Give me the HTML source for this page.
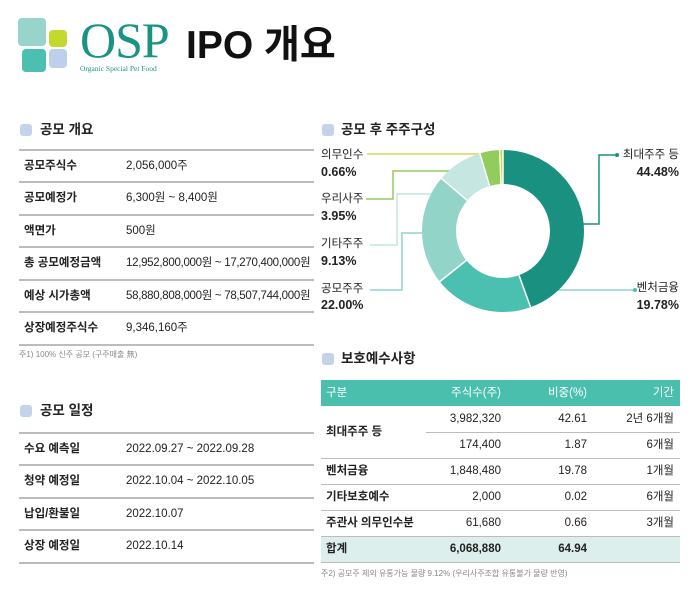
<!DOCTYPE html>
<html><head><meta charset="utf-8"><style>
body{margin:0;width:699px;height:596px;background:#fff;position:relative;overflow:hidden;font-family:"Liberation Sans","Noto Sans CJK KR",sans-serif;color:#222}
.a{position:absolute;white-space:nowrap;line-height:14px}
.h{font-size:13.5px;font-weight:bold;color:#222;line-height:16px}
.sq{position:absolute;width:12px;height:12px;border-radius:3px;background:#c3d3ea}
.ln{position:absolute;height:1.5px;background:#bcbcbc}
.t{font-size:11.5px}
.b{font-weight:bold}
.r{text-align:right}
.p{font-size:12.5px;line-height:16px}
</style></head><body>
<!-- logo -->
<div class="a" style="left:18px;top:18px;width:28px;height:28px;background:#97d4ca;border-radius:4px"></div>
<div class="a" style="left:49px;top:30px;width:18px;height:17px;background:#c5d82e;border-radius:4px"></div>
<div class="a" style="left:22px;top:49px;width:24px;height:23px;background:#4bbfb0;border-radius:4px"></div>
<div class="a" style="left:49px;top:49px;width:18px;height:19px;background:#bdd0ea;border-radius:4px"></div>
<div class="a" style="left:80px;top:40px;line-height:0;font-family:'Liberation Serif',serif;font-size:50px;color:#1b9383;letter-spacing:-1px">OSP</div>
<div class="a" style="left:80px;top:64px;font-family:'Liberation Serif',serif;font-size:7.5px;color:#1b9383;line-height:9px">Organic Special Pet Food</div>
<div class="a" style="left:186px;top:26px;line-height:40px;font-size:39px;font-weight:bold;color:#111">IPO 개요</div>

<!-- 공모 개요 -->
<div class="sq" style="left:20px;top:124px"></div>
<div class="a h" style="left:40px;top:122px">공모 개요</div>
<div class="ln" style="left:19px;top:149px;width:295px"></div>
<div class="ln" style="left:19px;top:181px;width:295px"></div>
<div class="ln" style="left:19px;top:214px;width:295px"></div>
<div class="ln" style="left:19px;top:246px;width:295px"></div>
<div class="ln" style="left:19px;top:279px;width:295px"></div>
<div class="ln" style="left:19px;top:311px;width:295px"></div>
<div class="ln" style="left:19px;top:344px;width:295px"></div>
<div class="a t b" style="left:24px;top:159px">공모주식수</div><div class="a t" style="left:126px;top:159px">2,056,000주</div>
<div class="a t b" style="left:24px;top:191px">공모예정가</div><div class="a t" style="left:126px;top:191px">6,300원 ~ 8,400원</div>
<div class="a t b" style="left:24px;top:224px">액면가</div><div class="a t" style="left:126px;top:224px">500원</div>
<div class="a t b" style="left:24px;top:256px">총 공모예정금액</div><div class="a t" style="left:126px;top:256px;letter-spacing:-0.3px">12,952,800,000원 ~ 17,270,400,000원</div>
<div class="a t b" style="left:24px;top:289px">예상 시가총액</div><div class="a t" style="left:126px;top:289px;letter-spacing:-0.3px">58,880,808,000원 ~ 78,507,744,000원</div>
<div class="a t b" style="left:24px;top:321px">상장예정주식수</div><div class="a t" style="left:126px;top:321px">9,346,160주</div>
<div class="a" style="left:19px;top:348px;font-size:8px;color:#888">주1) 100% 신주 공모 (구주매출 無)</div>

<!-- 공모 일정 -->
<div class="sq" style="left:20px;top:405px"></div>
<div class="a h" style="left:40px;top:403px">공모 일정</div>
<div class="ln" style="left:19px;top:432px;width:295px"></div>
<div class="ln" style="left:19px;top:464px;width:295px"></div>
<div class="ln" style="left:19px;top:497px;width:295px"></div>
<div class="ln" style="left:19px;top:529px;width:295px"></div>
<div class="ln" style="left:19px;top:562px;width:295px"></div>
<div class="a t b" style="left:24px;top:442px">수요 예측일</div><div class="a t" style="left:126px;top:442px">2022.09.27 ~ 2022.09.28</div>
<div class="a t b" style="left:24px;top:474px">청약 예정일</div><div class="a t" style="left:126px;top:474px">2022.10.04 ~ 2022.10.05</div>
<div class="a t b" style="left:24px;top:507px">납입/환불일</div><div class="a t" style="left:126px;top:507px">2022.10.07</div>
<div class="a t b" style="left:24px;top:539px">상장 예정일</div><div class="a t" style="left:126px;top:539px">2022.10.14</div>

<!-- 공모 후 주주구성 -->
<div class="sq" style="left:322px;top:124px"></div>
<div class="a h" style="left:341px;top:122px">공모 후 주주구성</div>
<svg class="a" style="left:0;top:0" width="699" height="596">
<g fill="none" stroke-width="1.5">
<polyline points="367,154 502,154" stroke="#d0dc55"/>
<polyline points="366,199 393,199 393,171 487,171" stroke="#92cc5c"/>
<polyline points="370,245 397,245 397,194 468,194" stroke="#c5e6e1"/>
<polyline points="370,290 402,290 402,233 423,233" stroke="#93d4c9"/>
<polyline points="582,224 599,224 599,155 615,155" stroke="#1a9080"/>
<polyline points="520,290 635,290" stroke="#93d4c9"/>
</g>
<circle cx="617" cy="155" r="2" fill="#1a9080"/>
<circle cx="635" cy="290" r="2" fill="#4bbfb0"/>
<g transform="rotate(-90 503 231)" fill="none" stroke-width="34">
<circle cx="503" cy="231" r="64" stroke="#1a9080" stroke-dasharray="178.86 500" stroke-dashoffset="0"/>
<circle cx="503" cy="231" r="64" stroke="#4bbfb0" stroke-dasharray="79.54 500" stroke-dashoffset="-178.86"/>
<circle cx="503" cy="231" r="64" stroke="#93d4c9" stroke-dasharray="88.46 500" stroke-dashoffset="-258.4"/>
<circle cx="503" cy="231" r="64" stroke="#c5e6e1" stroke-dasharray="36.71 500" stroke-dashoffset="-346.86"/>
<circle cx="503" cy="231" r="64" stroke="#92cc5c" stroke-dasharray="15.88 500" stroke-dashoffset="-383.57"/>
<circle cx="503" cy="231" r="64" stroke="#c7da2e" stroke-dasharray="2.65 500" stroke-dashoffset="-399.45"/>
</g>
<g stroke="#fff" stroke-width="1.5">
<line x1="503" y1="184" x2="503" y2="148" transform="rotate(0 503 231)"/>
<line x1="503" y1="184" x2="503" y2="148" transform="rotate(160.1 503 231)"/>
<line x1="503" y1="184" x2="503" y2="148" transform="rotate(231.3 503 231)"/>
<line x1="503" y1="184" x2="503" y2="148" transform="rotate(310.5 503 231)"/>
<line x1="503" y1="184" x2="503" y2="148" transform="rotate(343.4 503 231)"/>
<line x1="503" y1="184" x2="503" y2="148" transform="rotate(357.6 503 231)"/>
</g>
</svg>
<div class="a t" style="left:321px;top:148px">의무인수</div><div class="a b p" style="left:321px;top:164px">0.66%</div>
<div class="a t" style="left:321px;top:192px">우리사주</div><div class="a b p" style="left:321px;top:208px">3.95%</div>
<div class="a t" style="left:321px;top:237px">기타주주</div><div class="a b p" style="left:321px;top:253px">9.13%</div>
<div class="a t" style="left:321px;top:282px">공모주주</div><div class="a b p" style="left:321px;top:297px">22.00%</div>
<div class="a t r" style="right:20px;top:148px">최대주주 등</div><div class="a b r p" style="right:20px;top:164px">44.48%</div>
<div class="a t r" style="right:20px;top:281px">벤처금융</div><div class="a b r p" style="right:20px;top:297px">19.78%</div>

<!-- 보호예수사항 -->
<div class="sq" style="left:322px;top:353px"></div>
<div class="a h" style="left:341px;top:351px">보호예수사항</div>
<div class="a" style="left:321px;top:380px;width:359px;height:26px;background:#4bbfae"></div>
<div class="a" style="left:321px;top:536px;width:359px;height:26px;background:#dcefec"></div>
<div class="ln" style="left:426px;top:432px;width:254px;height:1px"></div>
<div class="ln" style="left:321px;top:458px;width:359px;height:1px"></div>
<div class="ln" style="left:321px;top:484px;width:359px;height:1px"></div>
<div class="ln" style="left:321px;top:510px;width:359px;height:1px"></div>
<div class="ln" style="left:321px;top:536px;width:359px;height:1px"></div>
<div class="ln" style="left:321px;top:562px;width:359px;height:1px"></div>
<div class="a t" style="left:326px;top:386px;color:#fff">구분</div>
<div class="a t r" style="right:198px;top:386px;color:#fff">주식수(주)</div>
<div class="a t r" style="right:112px;top:386px;color:#fff">비중(%)</div>
<div class="a t r" style="right:25px;top:386px;color:#fff">기간</div>
<div class="a t b" style="left:326px;top:425px">최대주주 등</div>
<div class="a t r" style="right:198px;top:412px">3,982,320</div><div class="a t r" style="right:112px;top:412px">42.61</div><div class="a t r" style="right:25px;top:412px">2년 6개월</div>
<div class="a t r" style="right:198px;top:438px">174,400</div><div class="a t r" style="right:112px;top:438px">1.87</div><div class="a t r" style="right:25px;top:438px">6개월</div>
<div class="a t b" style="left:326px;top:464px">벤처금융</div><div class="a t r" style="right:198px;top:464px">1,848,480</div><div class="a t r" style="right:112px;top:464px">19.78</div><div class="a t r" style="right:25px;top:464px">1개월</div>
<div class="a t b" style="left:326px;top:490px">기타보호예수</div><div class="a t r" style="right:198px;top:490px">2,000</div><div class="a t r" style="right:112px;top:490px">0.02</div><div class="a t r" style="right:25px;top:490px">6개월</div>
<div class="a t b" style="left:326px;top:516px">주관사 의무인수분</div><div class="a t r" style="right:198px;top:516px">61,680</div><div class="a t r" style="right:112px;top:516px">0.66</div><div class="a t r" style="right:25px;top:516px">3개월</div>
<div class="a t b" style="left:326px;top:542px">합계</div><div class="a t b r" style="right:198px;top:542px">6,068,880</div><div class="a t b r" style="right:112px;top:542px">64.94</div>
<div class="a" style="left:321px;top:567px;font-size:8px;color:#888">주2) 공모주 제외 유통가능 물량 9.12% (우리사주조합 유통불가 물량 반영)</div>
</body></html>
